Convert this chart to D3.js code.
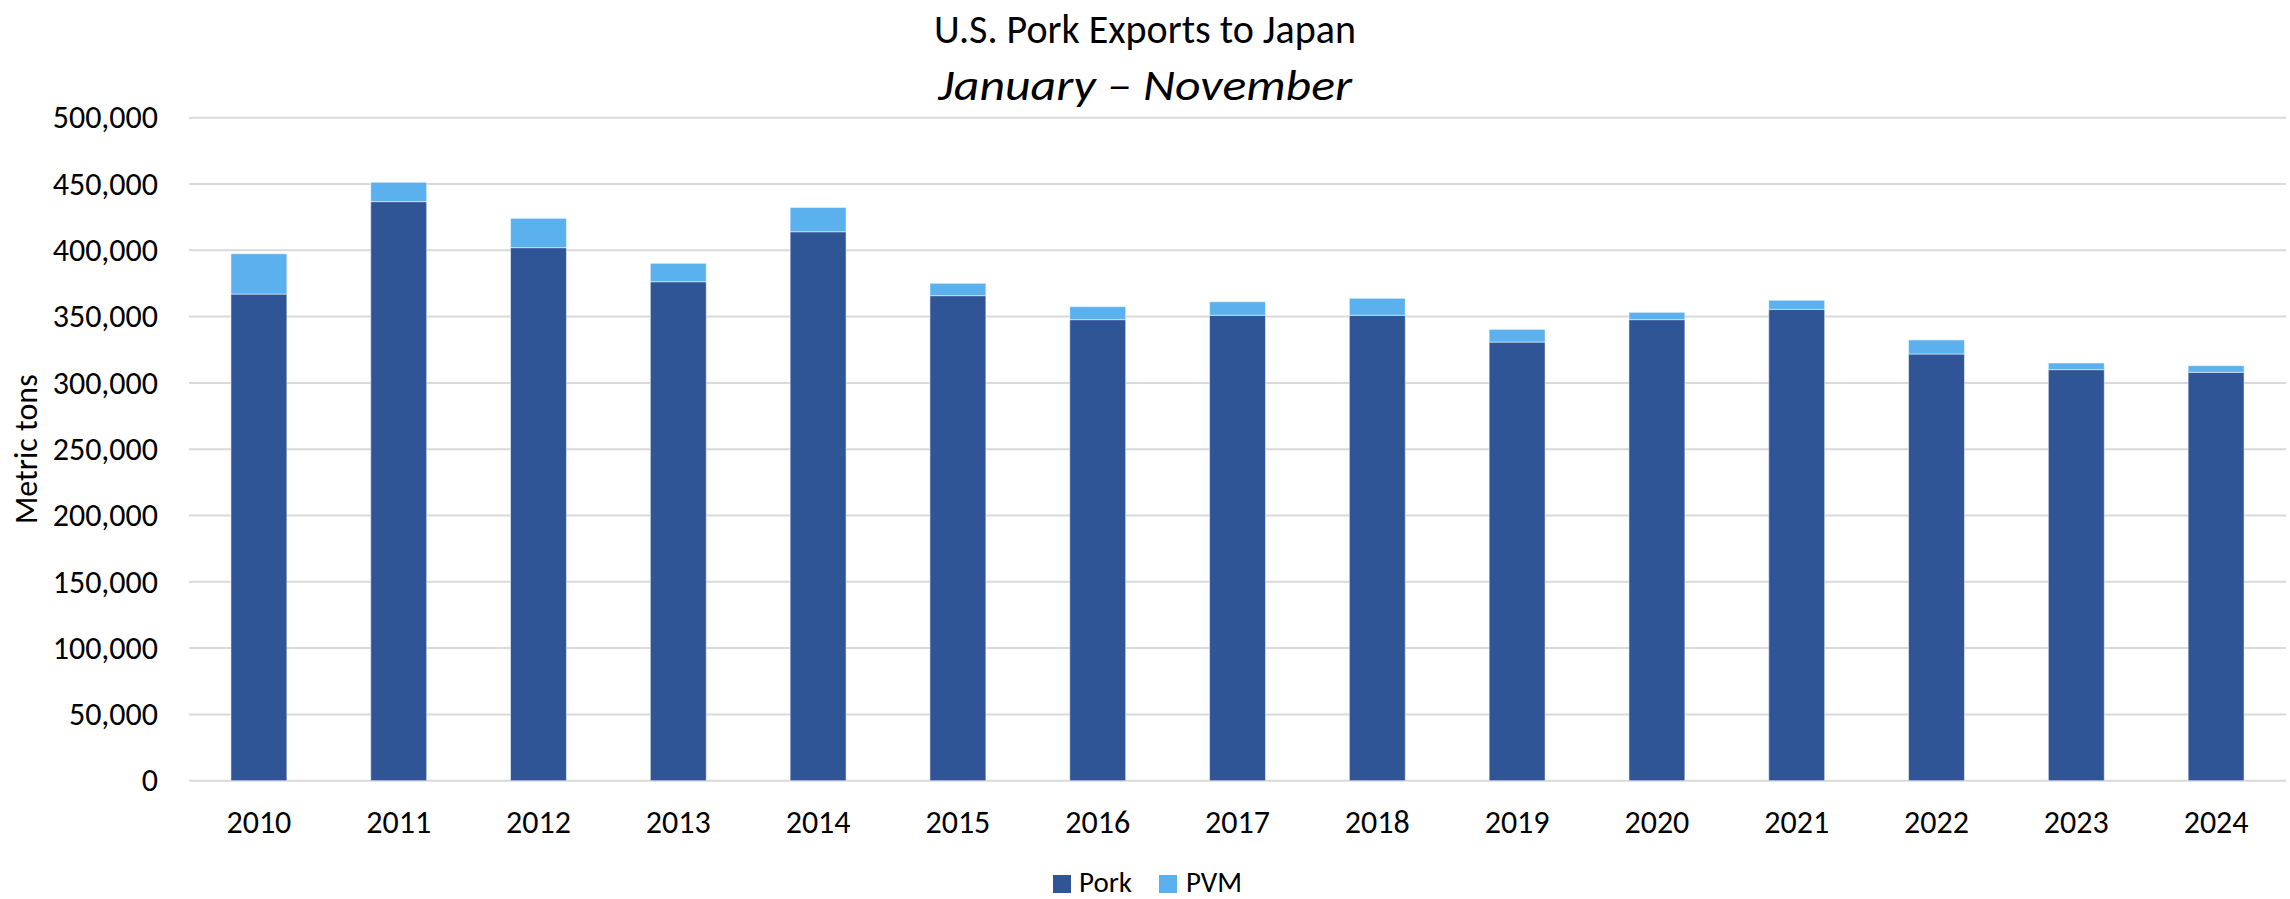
<!DOCTYPE html>
<html>
<head>
<meta charset="utf-8">
<script src="https://cdn.jsdelivr.net/npm/d3@7"></script>
<style>
  html, body { margin: 0; padding: 0; background: #fff; }
  svg { display: block; }
  text { font-family: Carlito, Calibri, Lato, "Noto Sans", sans-serif; fill: #000; }
</style>
</head>
<body>
<svg id="chart" width="2290" height="899"></svg>
<script>
const years = ["2010","2011","2012","2013","2014","2015","2016","2017","2018","2019","2020","2021","2022","2023","2024"];
const pork = [367000, 436700, 402000, 376300, 414000, 365800, 347700, 351000, 351000, 330800, 347700, 355500, 321800, 310000, 308000];
const pvm  = [30400, 14600, 22100, 13900, 18300, 9300, 9800, 10200, 12800, 9600, 5500, 6800, 10600, 5000, 5000];
const yTicks = [0, 50000, 100000, 150000, 200000, 250000, 300000, 350000, 400000, 450000, 500000];
const seriesNames = ["Pork", "PVM"];
const colors = ["#2F5597", "#5BB1EE"];

const W = 2290, H = 899;
const margin = { left: 189, right: 4, top: 117.7, bottom: H - 780.7 };
const svg = d3.select("#chart");

const x = d3.scaleBand().domain(years).range([margin.left, W - margin.right]).paddingInner(0.6).paddingOuter(0.3);
const y = d3.scaleLinear().domain([0, 500000]).range([H - margin.bottom, margin.top]);

// gridlines
svg.append("g").selectAll("line").data(yTicks).join("line")
  .attr("x1", margin.left).attr("x2", W - margin.right)
  .attr("y1", d => y(d)).attr("y2", d => y(d))
  .attr("stroke", "#D9D9D9").attr("stroke-width", 2);

// y axis labels
const yAxis = d3.axisLeft(y).tickValues(yTicks).tickFormat(d3.format(",")).tickSize(0).tickPadding(31);
const gy = svg.append("g").attr("transform", `translate(${margin.left},0)`).call(yAxis);
gy.select(".domain").remove();
gy.selectAll("text").attr("font-size", 32).attr("font-family", "Carlito, Calibri, Lato, sans-serif").attr("fill", "#000");

// x axis labels
const xAxis = d3.axisBottom(x).tickSize(0).tickPadding(30);
const gx = svg.append("g").attr("transform", `translate(0,${H - margin.bottom})`).call(xAxis);
gx.select(".domain").remove();
gx.selectAll("text").attr("font-size", 32).attr("font-family", "Carlito, Calibri, Lato, sans-serif").attr("fill", "#000");

// stacked data
const rows = years.map((yr, i) => ({ year: yr, Pork: pork[i], PVM: pvm[i] }));
const stack = d3.stack().keys(seriesNames)(rows);

svg.append("g").selectAll("g").data(stack).join("g")
  .attr("fill", (d, i) => colors[i])
  .selectAll("rect").data(d => d).join("rect")
  .attr("x", d => x(d.data.year))
  .attr("width", x.bandwidth())
  .attr("y", d => y(d[1]))
  .attr("height", d => y(d[0]) - y(d[1]))
  .attr("stroke", "#ffffff").attr("stroke-opacity", 0.5).attr("stroke-width", 1);

// title
svg.append("text").attr("x", 1145).attr("y", 43).attr("text-anchor", "middle")
  .attr("font-size", 40).text("U.S. Pork Exports to Japan");
svg.append("text").attr("x", 1145).attr("y", 100).attr("text-anchor", "middle")
  .attr("font-size", 44).attr("font-style", "italic")
  .attr("textLength", 414).attr("lengthAdjust", "spacingAndGlyphs")
  .text("January – November");

// y axis title
svg.append("text").attr("transform", `translate(37,${(y(0) + y(500000)) / 2}) rotate(-90)`)
  .attr("text-anchor", "middle").attr("font-size", 32).text("Metric tons");

// legend
const legendItems = [
  { name: "Pork", color: colors[0], sx: 1053, tx: 1079 },
  { name: "PVM", color: colors[1], sx: 1159, tx: 1186 }
];
const lg = svg.append("g");
legendItems.forEach(it => {
  lg.append("rect").attr("x", it.sx).attr("y", 875).attr("width", 18).attr("height", 18).attr("fill", it.color);
  lg.append("text").attr("x", it.tx).attr("y", 892).attr("font-size", 29).text(it.name);
});
</script>
</body>
</html>
